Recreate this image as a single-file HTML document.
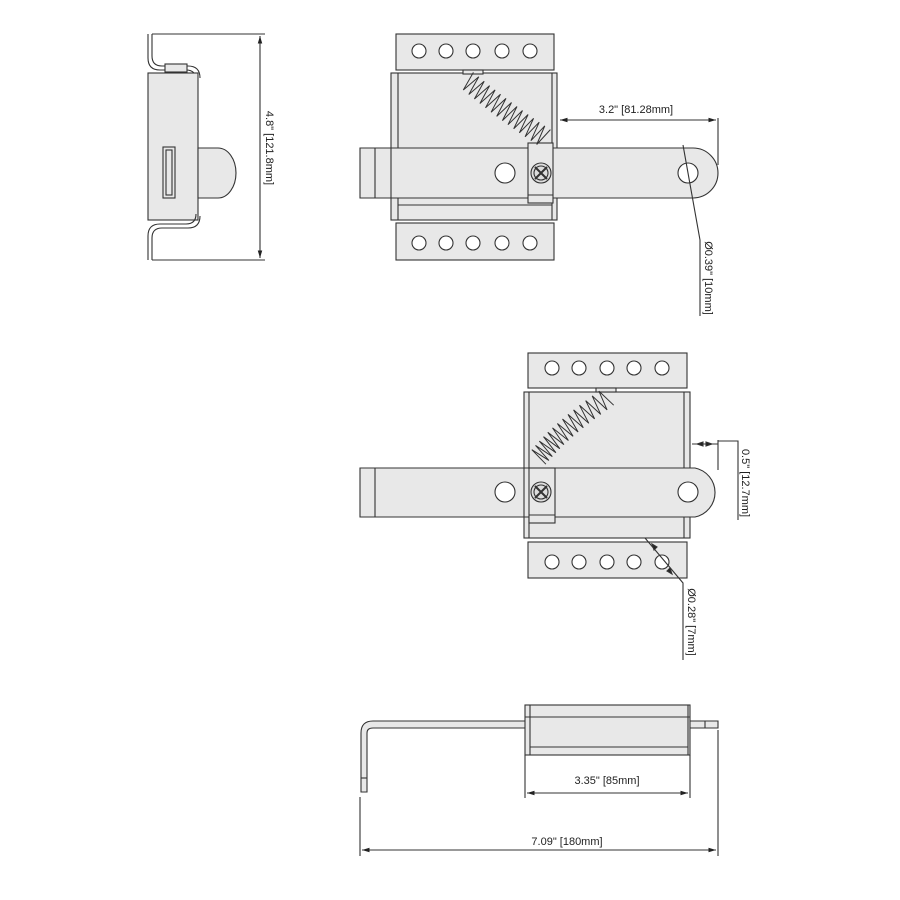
<!DOCTYPE html>
<html><head><meta charset="utf-8"><style>
html,body{margin:0;padding:0;background:#fff}
svg{display:block}
text{font-family:"Liberation Sans",sans-serif;font-size:11px;fill:#222}
</style></head><body>
<svg id="s" width="900" height="900" viewBox="0 0 900 900" xmlns="http://www.w3.org/2000/svg">
<defs>
<marker id="a" viewBox="0 0 10 10" refX="10" refY="5" markerWidth="7" markerHeight="7" orient="auto-start-reverse"><path d="M0,2 L10,5 L0,8 z" fill="#222"/></marker>
</defs>
<g stroke="#333" stroke-width="1.1" fill="#e8e8e8">

<!-- SIDE VIEW -->
<path d="M148,34 V58 Q148,70 160,70 H186 Q196,70 196,80" fill="none"/>
<path d="M152,34 V56 Q152,66 162,66 H188 Q200,66 200,78" fill="none"/>
<rect x="165" y="64" width="22" height="8"/>
<rect x="148" y="73" width="50" height="147"/>
<path d="M198,148 H218 A18,25 0 0 1 218,198 H198 Z"/>
<rect x="163" y="147" width="12" height="51"/>
<rect x="166" y="150" width="6" height="45" fill="none"/>
<path d="M148,260 V236 Q148,224 160,224 H186 Q196,224 196,214" fill="none"/>
<path d="M152,260 V238 Q152,228 162,228 H188 Q200,228 200,216" fill="none"/>
<line x1="152" y1="34" x2="265" y2="34"/>
<line x1="152" y1="260" x2="265" y2="260"/>
<line x1="260" y1="36" x2="260" y2="258" marker-start="url(#a)" marker-end="url(#a)"/>

<!-- TOP VIEW -->
<rect x="396" y="34" width="158" height="36"/>
<rect x="396" y="223" width="158" height="37"/>
<rect x="391" y="73" width="166" height="147"/>
<line x1="398" y1="73" x2="398" y2="220"/>
<line x1="552" y1="73" x2="552" y2="220"/>
<line x1="396" y1="70" x2="554" y2="70"/><line x1="396" y1="223" x2="554" y2="223"/>
<path d="M360,148 H693 A25,25 0 0 1 693,198 H360 Z"/>
<line x1="375" y1="148" x2="375" y2="198"/>
<line x1="391" y1="148" x2="391" y2="198"/>
<line x1="398" y1="205" x2="552" y2="205"/>
<circle cx="505" cy="173" r="10" fill="#fff"/>
<circle cx="688" cy="173" r="10" fill="#fff"/>
<rect x="528" y="143" width="25" height="60"/>
<line x1="528" y1="195" x2="553" y2="195"/>
<circle cx="541" cy="173" r="10" fill="#ddd"/>
<circle cx="541" cy="173" r="7" fill="none"/>
<path d="M535,167 L547,179 M547,167 L535,179" stroke-width="2"/>
<rect x="463" y="70" width="20" height="4"/>
<g fill="#fff">
<circle cx="419" cy="51" r="7"/><circle cx="446" cy="51" r="7"/><circle cx="473" cy="51" r="7"/><circle cx="502" cy="51" r="7"/><circle cx="530" cy="51" r="7"/>
<circle cx="419" cy="243" r="7"/><circle cx="446" cy="243" r="7"/><circle cx="473" cy="243" r="7"/><circle cx="502" cy="243" r="7"/><circle cx="530" cy="243" r="7"/>
</g>
<line x1="718" y1="118" x2="718" y2="165"/>
<line x1="560" y1="120" x2="716" y2="120" marker-start="url(#a)" marker-end="url(#a)"/>
<polyline points="683,145 700,240 700,316" fill="none"/>

<!-- MIDDLE VIEW -->
<rect x="528" y="353" width="159" height="35"/>
<rect x="528" y="542" width="159" height="36"/>
<rect x="524" y="392" width="166" height="146"/>
<line x1="529" y1="392" x2="529" y2="538"/>
<line x1="684" y1="392" x2="684" y2="538"/>
<line x1="528" y1="388" x2="687" y2="388"/><line x1="528" y1="542" x2="687" y2="542"/>
<path d="M360,468 H695 A25,25 0 0 1 695,517 H360 Z"/>
<line x1="375" y1="468" x2="375" y2="517"/>
<line x1="524" y1="468" x2="524" y2="517"/>
<circle cx="505" cy="492" r="10" fill="#fff"/>
<circle cx="688" cy="492" r="10" fill="#fff"/>
<rect x="529" y="468" width="26" height="55"/>
<line x1="529" y1="515" x2="555" y2="515"/>
<circle cx="541" cy="492" r="10" fill="#ddd"/>
<circle cx="541" cy="492" r="7" fill="none"/>
<path d="M535,486 L547,498 M547,486 L535,498" stroke-width="2"/>
<rect x="596" y="388" width="20" height="4"/>
<g fill="#fff">
<circle cx="552" cy="368" r="7"/><circle cx="579" cy="368" r="7"/><circle cx="607" cy="368" r="7"/><circle cx="634" cy="368" r="7"/><circle cx="662" cy="368" r="7"/>
<circle cx="552" cy="562" r="7"/><circle cx="579" cy="562" r="7"/><circle cx="607" cy="562" r="7"/><circle cx="634" cy="562" r="7"/><circle cx="662" cy="562" r="7"/>
</g>
<line x1="692" y1="444" x2="718" y2="444"/>
<line x1="718" y1="440" x2="718" y2="470"/>
<path d="M697,444 l6,-2 v4 z M712,444 l-6,-2 v4 z" fill="#222"/>
<polyline points="718,441 738,441 738,520" fill="none"/>
<polyline points="645,538 683,583 683,660" fill="none"/>
<path d="M654,550 l-2,-6 l5,3 z M670,568 l2,6 l-5,-3 z" fill="#222"/>

<!-- BOTTOM VIEW -->
<path d="M718,721 H373 Q361,721 361,733 V792 H367 V733 Q367,728 373,728 H718 Z"/>
<line x1="361" y1="778" x2="367" y2="778"/>
<line x1="705" y1="721" x2="705" y2="728"/>
<rect x="525" y="705" width="165" height="50"/>
<line x1="530" y1="705" x2="530" y2="755"/><line x1="688" y1="705" x2="688" y2="755"/>
<line x1="525" y1="717" x2="690" y2="717"/><line x1="530" y1="747" x2="688" y2="747"/>
<line x1="525" y1="755" x2="525" y2="798"/><line x1="690" y1="755" x2="690" y2="798"/>
<line x1="527" y1="793" x2="688" y2="793" marker-start="url(#a)" marker-end="url(#a)"/>
<line x1="360" y1="797" x2="360" y2="856"/><line x1="718" y1="730" x2="718" y2="856"/>
<line x1="362" y1="850" x2="716" y2="850" marker-start="url(#a)" marker-end="url(#a)"/>
</g>
<g id="springs" fill="none" stroke="#333" stroke-width="1"></g>

<text x="270" y="148" text-anchor="middle" transform="rotate(90 270 148)" dy="4">4.8" [121.8mm]</text>
<text x="636" y="113" text-anchor="middle">3.2" [81.28mm]</text>
<text x="709" y="278" text-anchor="middle" transform="rotate(90 709 278)" dy="4">Ø0.39" [10mm]</text>
<text x="746" y="483" text-anchor="middle" transform="rotate(90 746 483)" dy="4">0.5" [12.7mm]</text>
<text x="692" y="622" text-anchor="middle" transform="rotate(90 692 622)" dy="4">Ø0.28" [7mm]</text>
<text x="607" y="784" text-anchor="middle">3.35" [85mm]</text>
<text x="567" y="845" text-anchor="middle">7.09" [180mm]</text>
</svg>
<script>
function spring(p0,c,p2,n,amp){
  var d="";var N=n*2;
  for(var i=0;i<=N;i++){
    var t=i/N,u=1-t;
    var x=u*u*p0[0]+2*u*t*c[0]+t*t*p2[0];
    var y=u*u*p0[1]+2*u*t*c[1]+t*t*p2[1];
    var dx=2*u*(c[0]-p0[0])+2*t*(p2[0]-c[0]);
    var dy=2*u*(c[1]-p0[1])+2*t*(p2[1]-c[1]);
    var l=Math.sqrt(dx*dx+dy*dy);var nx=-dy/l,ny=dx/l;
    var s=(i%2?1:-1)*amp;
    d+=(i?"L":"M")+(x+nx*s).toFixed(1)+","+(y+ny*s).toFixed(1);
  }
  var p=document.createElementNS("http://www.w3.org/2000/svg","path");
  p.setAttribute("d",d);document.getElementById("springs").appendChild(p);
}
spring([467,80],[505,112],[545,138],14,10);
spring([608,397],[560,430],[538,458],14,10);
</script>
</body></html>
